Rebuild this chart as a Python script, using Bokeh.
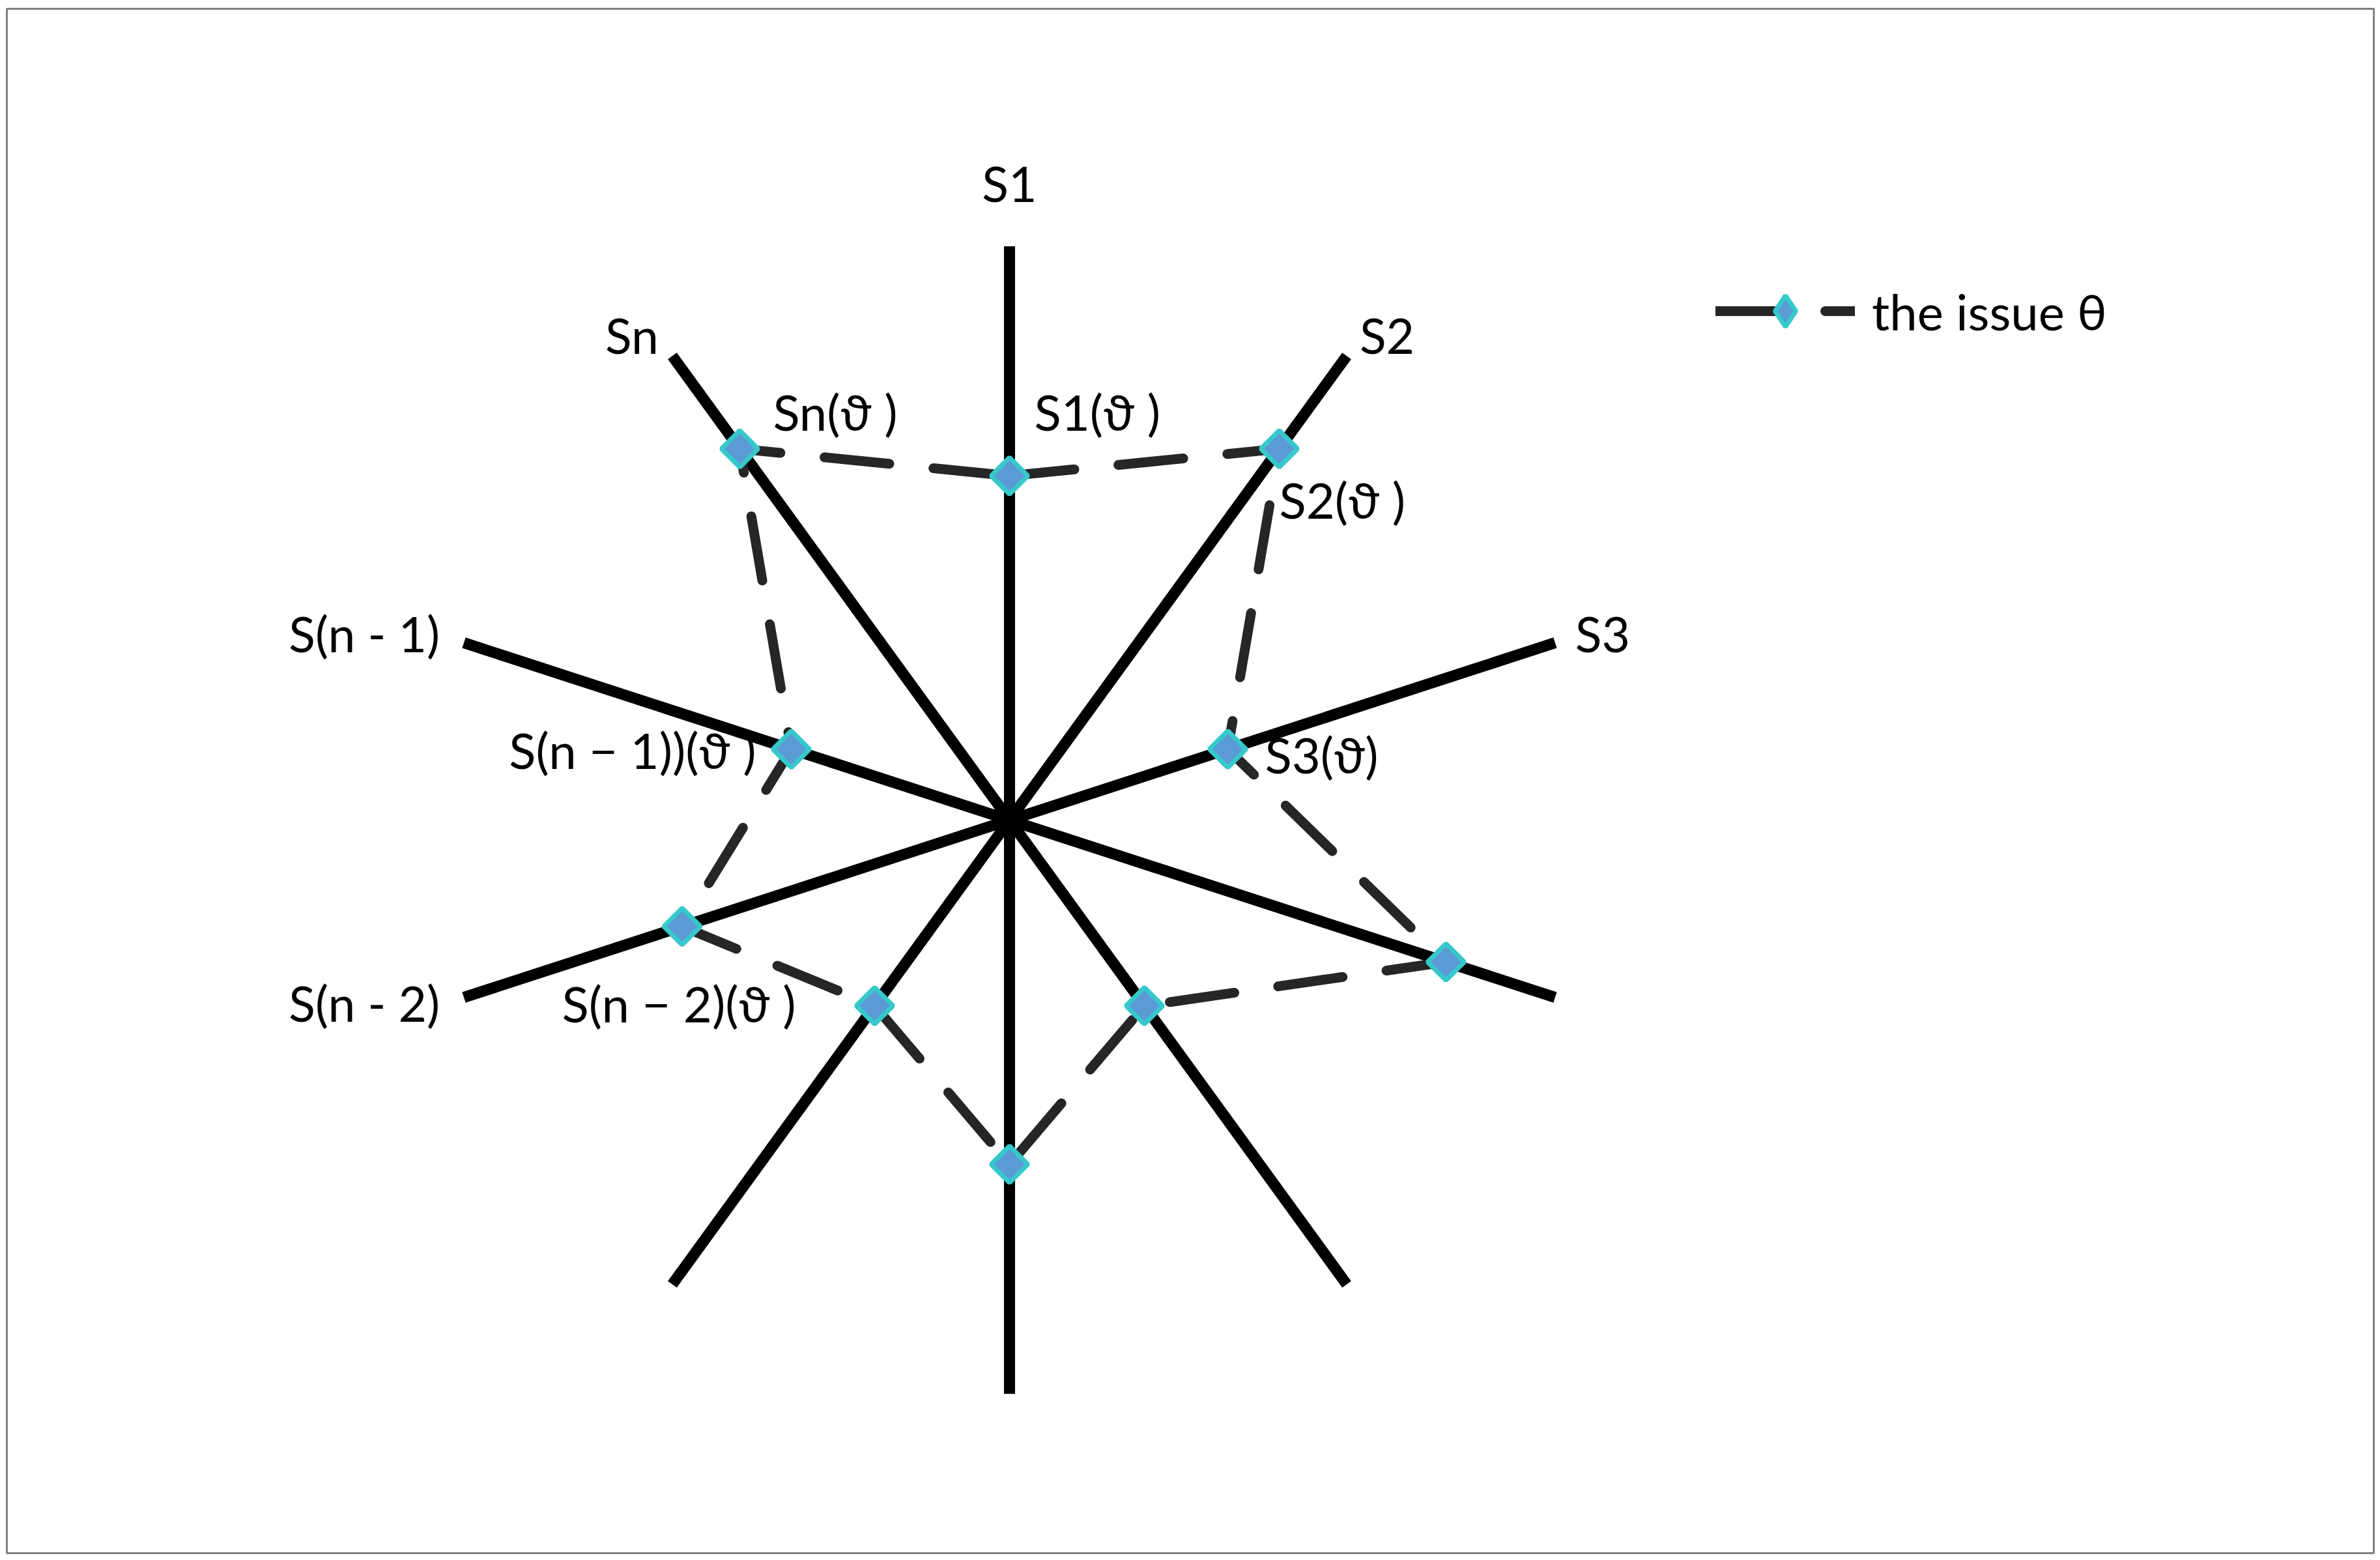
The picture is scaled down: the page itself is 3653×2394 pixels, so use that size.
import numpy as np
from bokeh.plotting import figure
from bokeh.models import ColumnDataSource, Range1d, Legend, LegendItem
from bokeh.embed import file_html
from bokeh.resources import INLINE
from bokeh.core.properties import value

# ---------------- data ----------------
spoke_labels = ["S1", "S2", "S3", "", "", "", "", "S(n - 2)", "S(n - 1)", "Sn"]
issue_values = [3, 4, 2, 4, 2, 3, 2, 3, 2, 4]
axis_max = 5
point_labels = ["S1(ϑ )", "S2(ϑ )", "S3(ϑ)", "", "", "", "", "S(n − 2)(ϑ )", "S(n − 1))(ϑ )", "Sn(ϑ )"]
series_name = "the issue θ"

# ---------------- layout / style ----------------
FONT = "Lato"
n = len(spoke_labels)
ang = np.arange(n) * 2 * np.pi / n          # clockwise from top
sx, sy = np.sin(ang), np.cos(ang)

# label placement (align, x offset px, y offset px) relative to spoke end
spoke_lab_style = {
    0: ("center", 0, -97),
    1: ("center", 62, -32),
    2: ("center", 73, -14),
    7: ("right", -37, 8),
    8: ("right", -37, -14),
    9: ("center", -62, -32),
}
# relative to the data point
point_lab_style = {
    0: ("left", 38, -99),
    1: ("left", 0, 78),
    2: ("left", 57, 8),
    7: ("center", -6, 118),
    8: ("right", -56, 1),
    9: ("left", 51, -57),
}

MARK_FILL = "#5B9BD5"
MARK_LINE = "#36C9CC"

p = figure(width=3645, height=2385,
           x_range=Range1d(-8.739, 11.891), y_range=Range1d(-6.388, 7.070),
           output_backend="svg", toolbar_location=None,
           x_axis_location=None, y_axis_location=None,
           min_border_left=10, min_border_right=2, min_border_top=13, min_border_bottom=2)
p.grid.visible = False
p.outline_line_color = "#808080"
p.outline_line_width = 3
p.background_fill_color = "white"
p.border_fill_color = "white"

# spokes
p.segment(x0=np.zeros(n), y0=np.zeros(n), x1=axis_max * sx, y1=axis_max * sy,
          line_color="black", line_width=17, line_cap="butt")

# series
vals = np.array(issue_values, dtype=float)
px, py = vals * sx, vals * sy
line_src = ColumnDataSource(dict(x=np.append(px, px[0]), y=np.append(py, py[0])))
line_r = p.line("x", "y", source=line_src, line_color="#262626", line_width=15,
                line_dash="100 68", line_cap="round", line_join="round")
pt_src = ColumnDataSource(dict(x=px, y=py))
mark_r = p.scatter("x", "y", source=pt_src, marker="square", angle=np.pi / 4, size=40,
                   fill_color=MARK_FILL, line_color=MARK_LINE, line_width=7)
# legend-only diamond sample (the legend ignores marker angle)
legend_mark = p.scatter("x", "y", source=pt_src, marker="diamond", size=40,
                        fill_color=MARK_FILL, line_color=MARK_LINE, line_width=7,
                        visible=False)

# spoke labels
for i, lab in enumerate(spoke_labels):
    if not lab:
        continue
    al, xo, yo = spoke_lab_style[i]
    p.text(x=[axis_max * sx[i]], y=[axis_max * sy[i]], text=[lab], x_offset=xo, y_offset=yo,
           text_align=al, text_baseline="middle", text_font=value(FONT),
           text_font_size="75px", text_color="black")

# point labels
for i, lab in enumerate(point_labels):
    if not lab:
        continue
    al, xo, yo = point_lab_style[i]
    p.text(x=[px[i]], y=[py[i]], text=[lab], x_offset=xo, y_offset=yo,
           text_align=al, text_baseline="middle", text_font=value(FONT),
           text_font_size="76px", text_color="black")

legend = Legend(items=[LegendItem(label=series_name, renderers=[line_r, legend_mark])],
                location=(2623, 1846), orientation="vertical",
                glyph_width=214, glyph_height=120, label_height=120,
                label_standoff=26, padding=0, margin=0, spacing=0,
                label_text_font=FONT, label_text_font_size="76px",
                label_text_baseline="middle", label_text_color="black",
                inactive_fill_alpha=0,
                border_line_color=None, background_fill_alpha=0)
p.add_layout(legend)

open("out.html", "w").write(file_html(p, INLINE))
